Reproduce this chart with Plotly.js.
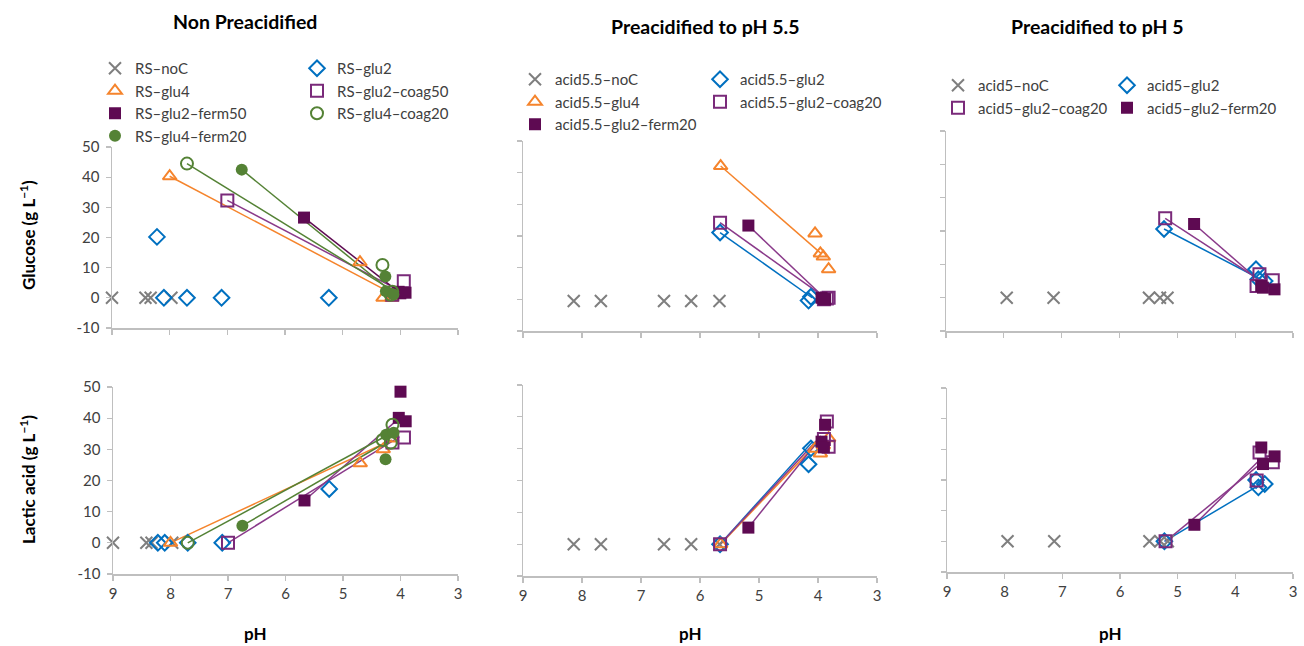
<!DOCTYPE html>
<html><head><meta charset="utf-8">
<script src="https://cdn.plot.ly/plotly-3.0.1.min.js"></script>
<style>html,body{margin:0;padding:0;background:#fff}#chart{width:1304px;height:646px}</style>
</head><body><div id="chart"></div>
<script>
// ---------------- DATA ----------------
const panelTitles = ['Non Preacidified', 'Preacidified to pH 5.5', 'Preacidified to pH 5'];
const yTitles = ['Glucose (g L<sup>\u22121</sup>)', 'Lactic acid (g L<sup>\u22121</sup>)'];
const xTitle = 'pH';
const xTickVals = [9, 8, 7, 6, 5, 4, 3];
const xTickText = ['9', '8', '7', '6', '5', '4', '3'];
const yTickVals = [-10, 0, 10, 20, 30, 40, 50];
const yTickText = ['-10', '0', '10', '20', '30', '40', '50'];

// Panel 1: Non preacidified
const rsNoC_name = 'RS\u2013noC';
const rsNoC_pH = [9.0, 8.42, 8.33, 7.97];
const rsNoC_glc = [0, 0, 0, 0];
const rsNoC_lac = [0, 0, 0, 0];

const rsGlu2_name = 'RS\u2013glu2';
const rsGlu2_pH = [8.22, 8.1, 7.7, 7.1, 5.24];
const rsGlu2_glc = [20.2, 0, 0, 0, 0];
const rsGlu2_lac = [0, 0, 0, 0, 17.3];

const rsGlu4_name = 'RS\u2013glu4';
const rsGlu4_pH = [8.0, 4.7, 4.3, 4.15];
const rsGlu4_glc = [40.3, 11.8, 0, 0];
const rsGlu4_lac = [0, 25.5, 30, 33.5];
const rsGlu4_linePH = [8.0, 4.15];
const rsGlu4_lineGlc = [40.3, 1.5];
const rsGlu4_lineLac = [0, 33];

const rsCoag50_name = 'RS\u2013glu2\u2013coag50';
const rsCoag50_pH = [7.0, 4.14, 3.94];
const rsCoag50_glc = [32.3, 1.0, 5.5];
const rsCoag50_lac = [0, 32.2, 33.8];
const rsCoag50_linePH = [7.0, 4.02];
const rsCoag50_lineGlc = [32.3, 2.5];
const rsCoag50_lineLac = [0, 34];

const rsFerm50_name = 'RS\u2013glu2\u2013ferm50';
const rsFerm50_pH = [5.67, 4.03, 4.0, 3.91];
const rsFerm50_glc = [26.6, 2.0, 1.5, 1.7];
const rsFerm50_lac = [13.6, 40.1, 48.5, 39];
const rsFerm50_linePH = [5.67, 4.02];
const rsFerm50_lineGlc = [26.6, 1.8];
const rsFerm50_lineLac = [13.6, 40];

const rsCoag20_name = 'RS\u2013glu4\u2013coag20';
const rsCoag20_pH = [7.7, 4.31, 4.14, 4.17];
const rsCoag20_glc = [44.5, 10.9, 2.0, 1.0];
const rsCoag20_lac = [0, 33, 37.9, 32.1];
const rsCoag20_linePH = [7.7, 4.18];
const rsCoag20_lineGlc = [44.5, 3.0];
const rsCoag20_lineLac = [0, 35];

const rsFerm20_name = 'RS\u2013glu4\u2013ferm20';
const rsFerm20_pH = [6.75, 4.26, 4.25, 4.12];
const rsFerm20_glc = [42.5, 7.1, 2.2, 1.1];
const rsFerm20_lac = [5.5, 26.8, 34.7, 35.3];
const rsFerm20_linePH = [6.75, 4.18];
const rsFerm20_lineGlc = [42.5, 2.5];
const rsFerm20_lineLac = [5.5, 33];

// Panel 2: preacidified to pH 5.5
const a55NoC_name = 'acid5.5\u2013noC';
const a55NoC_pH = [8.14, 7.68, 6.61, 6.15, 5.67];
const a55NoC_glc = [-0.5, -0.5, -0.5, -0.5, -0.5];
const a55NoC_lac = [0, 0, 0, 0, 0];

const a55Glu2_name = 'acid5.5\u2013glu2';
const a55Glu2_pH = [5.66, 4.16, 4.12];
const a55Glu2_glc = [21.1, -0.4, 0.8];
const a55Glu2_lac = [0, 25.1, 30.1];
const a55Glu2_linePH = [5.66, 4.1];
const a55Glu2_lineGlc = [21.1, 0.5];
const a55Glu2_lineLac = [0, 32];

const a55Glu4_name = 'acid5.5\u2013glu4';
const a55Glu4_pH = [5.65, 4.05, 3.96, 3.91, 3.82];
const a55Glu4_glc = [42.1, 20.8, 14.5, 13.5, 9.5];
const a55Glu4_lac = [0, 30, 28.5, 31, 33.3];
const a55Glu4_linePH = [5.65, 3.95];
const a55Glu4_lineGlc = [42.1, 14.5];
const a55Glu4_lineLac = [0, 33];

const a55Coag20_name = 'acid5.5\u2013glu2\u2013coag20';
const a55Coag20_pH = [5.66, 3.85, 3.82, 3.9];
const a55Coag20_glc = [24.2, 0.3, 0.5, 0];
const a55Coag20_lac = [0, 38.5, 30.6, 33];
const a55Coag20_linePH = [5.66, 3.95];
const a55Coag20_lineGlc = [24.2, 1.5];
const a55Coag20_lineLac = [0, 34];

const a55Ferm20_name = 'acid5.5\u2013glu2\u2013ferm20';
const a55Ferm20_pH = [5.18, 3.88, 3.94, 3.9];
const a55Ferm20_glc = [23.3, 0, 0.5, 0];
const a55Ferm20_lac = [5.2, 37.5, 32.2, 30.4];
const a55Ferm20_linePH = [5.18, 3.95];
const a55Ferm20_lineGlc = [23.3, 1.5];
const a55Ferm20_lineLac = [5.2, 33.5];

// Panel 3: preacidified to pH 5
const a5NoC_name = 'acid5\u2013noC';
const a5NoC_pH = [7.95, 7.14, 5.49, 5.3, 5.17];
const a5NoC_glc = [0, 0, 0, 0, 0];
const a5NoC_lac = [0, 0, 0, 0, 0];

const a5Glu2_name = 'acid5\u2013glu2';
const a5Glu2_pH = [5.23, 3.64, 3.6, 3.49];
const a5Glu2_glc = [20.6, 8.5, 5.5, 5.0];
const a5Glu2_lac = [0, 20, 17.6, 18.7];
const a5Glu2_linePH = [5.23, 3.5];
const a5Glu2_lineGlc = [20.6, 5.0];
const a5Glu2_lineLac = [0, 19.3];

const a5Coag20_name = 'acid5\u2013glu2\u2013coag20';
const a5Coag20_pH = [5.21, 3.58, 3.63, 3.35];
const a5Coag20_glc = [23.8, 7.0, 3.5, 5.2];
const a5Coag20_lac = [0, 29, 19.8, 25.8];
const a5Coag20_linePH = [5.21, 3.55];
const a5Coag20_lineGlc = [23.8, 5.0];
const a5Coag20_lineLac = [0, 25.5];

const a5Ferm20_name = 'acid5\u2013glu2\u2013ferm20';
const a5Ferm20_pH = [4.71, 3.55, 3.52, 3.32];
const a5Ferm20_glc = [22.1, 3.5, 3.0, 2.5];
const a5Ferm20_lac = [5.4, 30.6, 25.2, 27.7];
const a5Ferm20_linePH = [4.71, 3.58];
const a5Ferm20_lineGlc = [22.1, 5.0];
const a5Ferm20_lineLac = [5.4, 26.5];

// ---------------- STYLE ----------------
const W = 1304, H = 646;
const FONT = 'Lato, "Open Sans", sans-serif';
const GRAY = '#7f7f7f', BLUE = '#0070c0', ORANGE = '#f5842c', PURPLE = '#7a2a7a', PLUM = '#5e0a52', GREEN = '#548235';
const LINEPURPLE = '#8a3a8a';

const S = {
  noC:    {symbol: 'x-thin-open', color: GRAY, size: 12, line: {color: GRAY, width: 2}},
  glu2:   {symbol: 'diamond-open', color: BLUE, size: 12, line: {color: BLUE, width: 2}},
  glu4:   {symbol: 'triangle-up-open', color: ORANGE, size: 12, line: {color: ORANGE, width: 2}},
  coag:   {symbol: 'square-open', color: PURPLE, size: 12, line: {color: PURPLE, width: 2}},
  ferm:   {symbol: 'square', color: PLUM, size: 12, line: {color: PLUM, width: 0}},
  ccirc:  {symbol: 'circle-open', color: GREEN, size: 12, line: {color: GREEN, width: 2}},
  fcirc:  {symbol: 'circle', color: GREEN, size: 12, line: {color: GREEN, width: 0}}
};

const traces = [];
function pts(name, x, y, st, ax, legend, show) {
  traces.push({type: 'scatter', mode: 'markers', name: name, x: x, y: y,
    xaxis: 'x' + (ax === 1 ? '' : ax), yaxis: 'y' + (ax === 1 ? '' : ax),
    marker: st, legend: legend, showlegend: show, cliponaxis: false, hoverinfo: 'x+y+name'});
}
function ln(x, y, color, ax) {
  traces.push({type: 'scatter', mode: 'lines', x: x, y: y,
    xaxis: 'x' + (ax === 1 ? '' : ax), yaxis: 'y' + (ax === 1 ? '' : ax),
    line: {color: color, width: 1.5}, showlegend: false, hoverinfo: 'skip'});
}

// lines first (beneath markers)
ln(rsGlu4_linePH, rsGlu4_lineGlc, ORANGE, 1);   ln(rsGlu4_linePH, rsGlu4_lineLac, ORANGE, 4);
ln(rsCoag50_linePH, rsCoag50_lineGlc, LINEPURPLE, 1); ln(rsCoag50_linePH, rsCoag50_lineLac, LINEPURPLE, 4);
ln(rsFerm50_linePH, rsFerm50_lineGlc, PLUM, 1);  ln(rsFerm50_linePH, rsFerm50_lineLac, LINEPURPLE, 4);
ln(rsCoag20_linePH, rsCoag20_lineGlc, GREEN, 1); ln(rsCoag20_linePH, rsCoag20_lineLac, GREEN, 4);
ln(rsFerm20_linePH, rsFerm20_lineGlc, GREEN, 1); ln(rsFerm20_linePH, rsFerm20_lineLac, GREEN, 4);

ln(a55Glu4_linePH, a55Glu4_lineGlc, ORANGE, 2);  ln(a55Glu4_linePH, a55Glu4_lineLac, ORANGE, 5);
ln(a55Glu2_linePH, a55Glu2_lineGlc, BLUE, 2);    ln(a55Glu2_linePH, a55Glu2_lineLac, BLUE, 5);
ln(a55Coag20_linePH, a55Coag20_lineGlc, LINEPURPLE, 2); ln(a55Coag20_linePH, a55Coag20_lineLac, LINEPURPLE, 5);
ln(a55Ferm20_linePH, a55Ferm20_lineGlc, LINEPURPLE, 2); ln(a55Ferm20_linePH, a55Ferm20_lineLac, LINEPURPLE, 5);

ln(a5Glu2_linePH, a5Glu2_lineGlc, BLUE, 3);      ln(a5Glu2_linePH, a5Glu2_lineLac, BLUE, 6);
ln(a5Coag20_linePH, a5Coag20_lineGlc, LINEPURPLE, 3); ln(a5Coag20_linePH, a5Coag20_lineLac, LINEPURPLE, 6);
ln(a5Ferm20_linePH, a5Ferm20_lineGlc, LINEPURPLE, 3); ln(a5Ferm20_linePH, a5Ferm20_lineLac, LINEPURPLE, 6);

// markers, panel 1
pts(rsNoC_name, rsNoC_pH, rsNoC_glc, S.noC, 1, 'legend', true);   pts(rsNoC_name, rsNoC_pH, rsNoC_lac, S.noC, 4, 'legend', false);
pts(rsGlu2_name, rsGlu2_pH, rsGlu2_glc, S.glu2, 1, 'legend2', true); pts(rsGlu2_name, rsGlu2_pH, rsGlu2_lac, S.glu2, 4, 'legend2', false);
pts(rsGlu4_name, rsGlu4_pH, rsGlu4_glc, S.glu4, 1, 'legend', true); pts(rsGlu4_name, rsGlu4_pH, rsGlu4_lac, S.glu4, 4, 'legend', false);
pts(rsCoag50_name, rsCoag50_pH, rsCoag50_glc, S.coag, 1, 'legend2', true); pts(rsCoag50_name, rsCoag50_pH, rsCoag50_lac, S.coag, 4, 'legend2', false);
pts(rsFerm50_name, rsFerm50_pH, rsFerm50_glc, S.ferm, 1, 'legend', true); pts(rsFerm50_name, rsFerm50_pH, rsFerm50_lac, S.ferm, 4, 'legend', false);
pts(rsCoag20_name, rsCoag20_pH, rsCoag20_glc, S.ccirc, 1, 'legend2', true); pts(rsCoag20_name, rsCoag20_pH, rsCoag20_lac, S.ccirc, 4, 'legend2', false);
pts(rsFerm20_name, rsFerm20_pH, rsFerm20_glc, S.fcirc, 1, 'legend', true); pts(rsFerm20_name, rsFerm20_pH, rsFerm20_lac, S.fcirc, 4, 'legend', false);

// panel 2
pts(a55NoC_name, a55NoC_pH, a55NoC_glc, S.noC, 2, 'legend3', true); pts(a55NoC_name, a55NoC_pH, a55NoC_lac, S.noC, 5, 'legend3', false);
pts(a55Glu2_name, a55Glu2_pH, a55Glu2_glc, S.glu2, 2, 'legend4', true); pts(a55Glu2_name, a55Glu2_pH, a55Glu2_lac, S.glu2, 5, 'legend4', false);
pts(a55Glu4_name, a55Glu4_pH, a55Glu4_glc, S.glu4, 2, 'legend3', true); pts(a55Glu4_name, a55Glu4_pH, a55Glu4_lac, S.glu4, 5, 'legend3', false);
pts(a55Coag20_name, a55Coag20_pH, a55Coag20_glc, S.coag, 2, 'legend4', true); pts(a55Coag20_name, a55Coag20_pH, a55Coag20_lac, S.coag, 5, 'legend4', false);
pts(a55Ferm20_name, a55Ferm20_pH, a55Ferm20_glc, S.ferm, 2, 'legend3', true); pts(a55Ferm20_name, a55Ferm20_pH, a55Ferm20_lac, S.ferm, 5, 'legend3', false);

// panel 3
pts(a5NoC_name, a5NoC_pH, a5NoC_glc, S.noC, 3, 'legend5', true); pts(a5NoC_name, a5NoC_pH, a5NoC_lac, S.noC, 6, 'legend5', false);
pts(a5Glu2_name, a5Glu2_pH, a5Glu2_glc, S.glu2, 3, 'legend6', true); pts(a5Glu2_name, a5Glu2_pH, a5Glu2_lac, S.glu2, 6, 'legend6', false);
pts(a5Coag20_name, a5Coag20_pH, a5Coag20_glc, S.coag, 3, 'legend5', true); pts(a5Coag20_name, a5Coag20_pH, a5Coag20_lac, S.coag, 6, 'legend5', false);
pts(a5Ferm20_name, a5Ferm20_pH, a5Ferm20_glc, S.ferm, 3, 'legend6', true); pts(a5Ferm20_name, a5Ferm20_pH, a5Ferm20_lac, S.ferm, 6, 'legend6', false);

// ---------------- LAYOUT ----------------
const fx = p => p / W, fy = p => 1 - p / H;
// pixel domains [x0, x1, yTop, yBottom]
const doms = [
  [112, 458, 147, 328], [523, 877, 141, 331], [946, 1293, 131, 331],
  [113, 458, 387, 574], [523, 877, 385, 576], [947, 1293, 388, 572]
];
const AXC = '#bfbfbf';
const TICKFONT = {family: FONT, size: 15, color: '#404040'};
const layout = {
  width: W, height: H, margin: {l: 0, r: 0, t: 0, b: 0},
  paper_bgcolor: '#fff', plot_bgcolor: '#fff',
  font: {family: FONT, size: 14, color: '#404040'},
  annotations: [], showlegend: true
};
doms.forEach((d, i) => {
  const k = i + 1, sfx = k === 1 ? '' : k;
  layout['xaxis' + sfx] = {
    domain: [fx(d[0]), fx(d[1])], anchor: 'y' + sfx, range: [9, 3], autorange: false,
    tickmode: 'array', tickvals: xTickVals, ticktext: xTickText,
    showticklabels: i >= 3, ticks: 'outside', ticklen: 5, tickcolor: AXC, tickwidth: 1.3,
    showline: true, linecolor: AXC, linewidth: 1.5, showgrid: false, zeroline: false,
    tickfont: TICKFONT, fixedrange: true
  };
  layout['yaxis' + sfx] = {
    domain: [fy(d[3]), fy(d[2])], anchor: 'x' + sfx, range: [-10, 50], autorange: false,
    tickmode: 'array', tickvals: yTickVals, ticktext: yTickText,
    showticklabels: (i === 0 || i === 3), ticks: 'outside', ticklen: 5, tickcolor: AXC, tickwidth: 1.3,
    showline: true, linecolor: AXC, linewidth: 1.5, showgrid: false, zeroline: false,
    tickfont: TICKFONT, ticklabelstandoff: 3, fixedrange: true
  };
});

// legends
const legPos = [[95, 52], [297, 52], [515, 63], [700, 63], [938, 69], [1107, 69]];
legPos.forEach((p, i) => {
  const key = i === 0 ? 'legend' : 'legend' + (i + 1);
  layout[key] = {x: fx(p[0]), y: fy(p[1]), xanchor: 'left', yanchor: 'top', xref: 'paper', yref: 'paper',
    orientation: 'v', bgcolor: 'rgba(0,0,0,0)', borderwidth: 0, tracegroupgap: 0,
    font: {family: FONT, size: 15, color: '#404040'}};
});

// titles
const titleX = [245, 705, 1097], titleY = [22, 26, 26];
panelTitles.forEach((t, i) => layout.annotations.push({
  text: '<b>' + t + '</b>', x: fx(titleX[i]), y: fy(titleY[i]), xref: 'paper', yref: 'paper',
  xanchor: 'center', yanchor: 'middle', showarrow: false, font: {family: FONT, size: 19.5, color: '#000'}
}));
const pHX = [255, 690, 1110];
pHX.forEach(x => layout.annotations.push({
  text: '<b>' + xTitle + '</b>', x: fx(x), y: fy(633), xref: 'paper', yref: 'paper',
  xanchor: 'center', yanchor: 'middle', showarrow: false, font: {family: FONT, size: 17, color: '#000'}
}));
const yTitleY = [235, 480];
yTitles.forEach((t, i) => layout.annotations.push({
  text: '<b>' + t + '</b>', x: fx(27), y: fy(yTitleY[i]), xref: 'paper', yref: 'paper', textangle: -90,
  xanchor: 'center', yanchor: 'middle', showarrow: false, font: {family: FONT, size: 17, color: '#000'}
}));

Plotly.newPlot('chart', traces, layout, {displayModeBar: false, staticPlot: true});
</script>
</body></html>
